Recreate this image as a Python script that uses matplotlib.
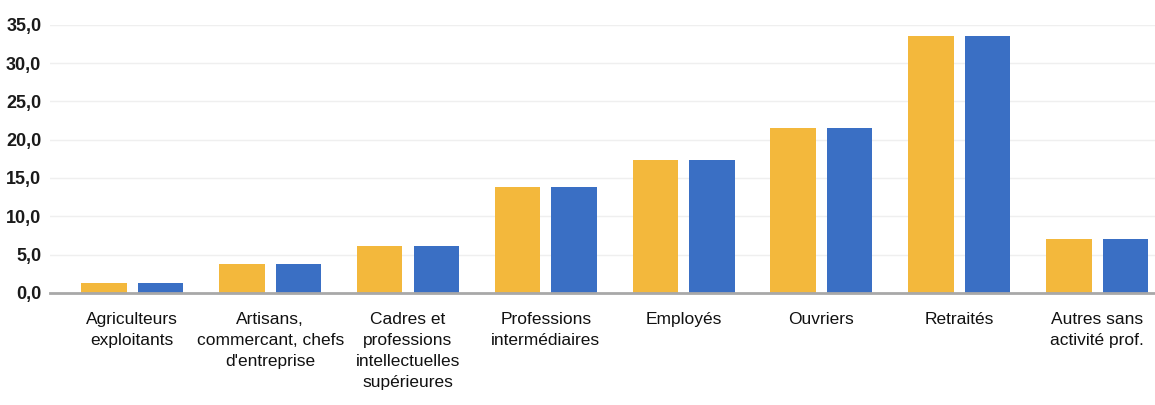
import matplotlib.pyplot as plt
import numpy as np

# catégories socioprofessionnelles
categories = [
    "Agriculteurs\nexploitants",
    "Artisans,\ncommercant, chefs\nd'entreprise",
    "Cadres et\nprofessions\nintellectuelles\nsupérieures",
    "Professions\nintermédiaires",
    "Employés",
    "Ouvriers",
    "Retraités",
    "Autres sans\nactivité prof.",
]
serie_1 = [1.3, 3.8, 6.1, 13.8, 17.3, 21.5, 33.5, 7.0]
serie_2 = [1.3, 3.8, 6.1, 13.8, 17.3, 21.5, 33.5, 7.0]
yticks = [0, 5, 10, 15, 20, 25, 30, 35]

plt.rcParams['font.family'] = ['Liberation Sans Narrow', 'Liberation Sans', 'DejaVu Sans']

fig = plt.figure(figsize=(11.55, 4.05), dpi=100)
ax = fig.add_axes([0.043, 0.277, 0.957, 0.662])

x = np.arange(len(categories))
w = 0.33
ax.bar(x - 0.205, serie_1, width=w, color='#F3B83C', zorder=2)
ax.bar(x + 0.205, serie_2, width=w, color='#3A6FC4', zorder=2)

ax.set_xlim(-0.6, 7.42)
ax.set_ylim(0, 35)
ax.set_yticks(yticks)
ax.set_yticklabels([f"{v:.1f}".replace('.', ',') for v in yticks],
                   fontsize=13, fontweight='bold', color='#1a1a1a')
ax.set_xticks(x)
ax.set_xticklabels(categories, fontsize=12.5, color='#111111', linespacing=1.5)
ax.tick_params(axis='both', length=0)
ax.tick_params(axis='x', pad=14)
ax.tick_params(axis='y', pad=6)

ax.grid(axis='y', color='#efefef', linewidth=1, zorder=0)
for s in ['top', 'right', 'left']:
    ax.spines[s].set_visible(False)
ax.spines['bottom'].set_color('#a8a8a8')
ax.spines['bottom'].set_linewidth(2)
ax.spines['bottom'].set_zorder(3)

fig.savefig('out.png', dpi=100)
